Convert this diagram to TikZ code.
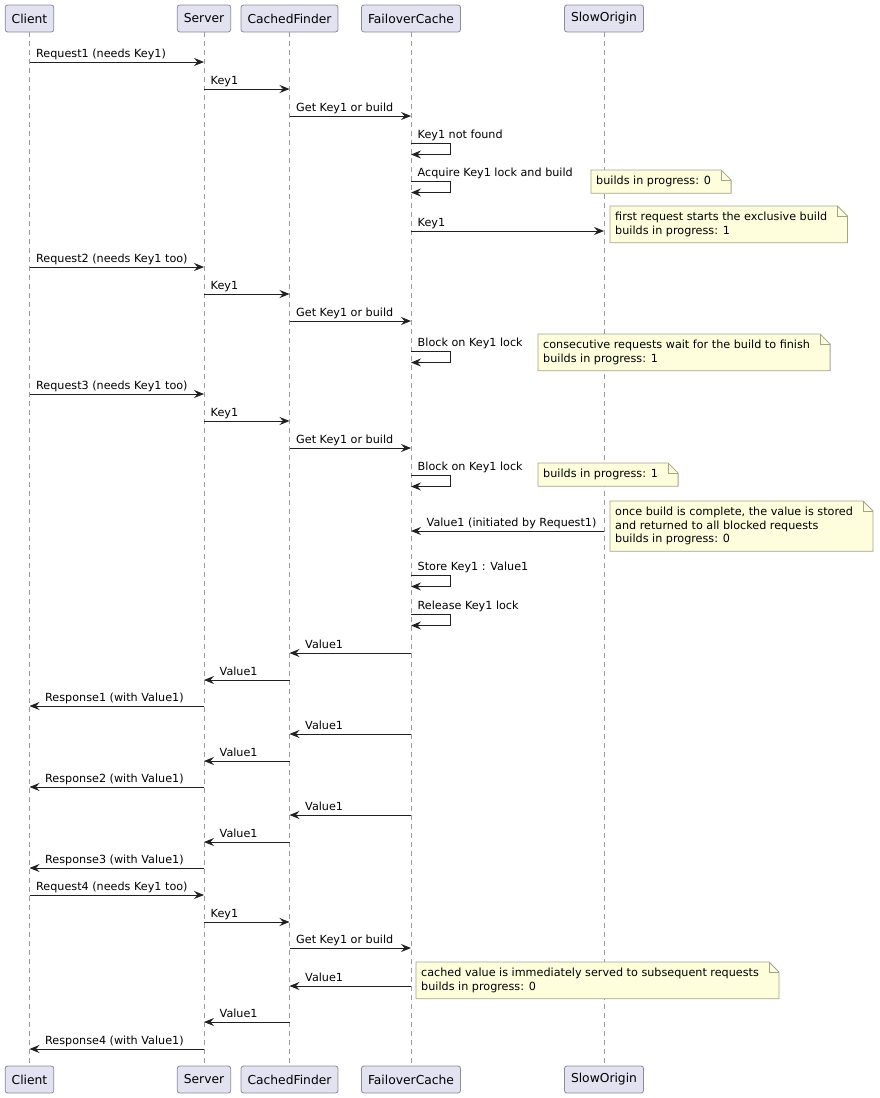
\documentclass[tikz,border=0pt]{standalone}
\usepackage{fontspec}
\setmainfont{DejaVu Sans}
\usetikzlibrary{arrows.meta,calc,backgrounds}
\definecolor{partfill}{HTML}{E2E2F0}
\definecolor{partline}{HTML}{8A8A9A}
\definecolor{lifeline}{HTML}{9A9A9A}
\definecolor{notefill}{HTML}{FEFEDD}
\definecolor{noteline}{HTML}{A3A38A}
\definecolor{msgline}{HTML}{202020}

\begin{document}
\begin{tikzpicture}[x=1pt,y=-1pt,
    part/.style={draw=partline,fill=partfill,rounded corners=2.5pt,line width=0.8pt,
      minimum height=27pt,inner xsep=6.5pt,font=\fontsize{12.3}{14}\selectfont},
    msg/.style={draw=msgline,line width=0.9pt,-{Stealth[length=10pt,width=8pt,inset=3.5pt]}},
    lbl/.style={anchor=base west,inner sep=0pt,font=\fontsize{11.2}{13.5}\selectfont},
    note/.style={anchor=north west,align=left,inner xsep=5pt,inner ysep=6pt,
      font=\fontsize{11.2}{13.5}\selectfont},
    notebox/.style={draw=noteline,fill=notefill,line width=0.8pt},
    life/.style={draw=lifeline,line width=0.8pt,dash pattern=on 4.5pt off 4.5pt}]
    \useasboundingbox (0,0) rectangle (880,1098);
    % participants, top and bottom
    \foreach \p/\x/\t in {client/29.5/Client,server/204/Server,finder/289.5/CachedFinder,
        failover/411/FailoverCache,origin/604/SlowOrigin} {
      \node[part] (\p) at (\x,18.5) {\t};
      \node[part] (\p2) at (\x,1079.5) {\t};
    }
    \begin{scope}[on background layer]
      \foreach \p in {client,server,finder,failover,origin}
        \draw[life] (\p.south) -- (\p2.north);
    \end{scope}
    % calls
    \foreach \a/\b/\y/\t in {client/server/62/Request1 (needs Key1),
        server/finder/89/Key1, finder/failover/116/Get Key1 or build,
        failover/origin/231/Key1,
        client/server/267/Request2 (needs Key1 too),
        server/finder/294/Key1, finder/failover/321/Get Key1 or build,
        client/server/394/Request3 (needs Key1 too),
        server/finder/421/Key1, finder/failover/448/Get Key1 or build,
        client/server/895/Request4 (needs Key1 too),
        server/finder/922/Key1, finder/failover/948/Get Key1 or build} {
      \draw[msg] (\a |- 0,\y) -- (\b |- 0,\y);
      \node[lbl,xshift=6.5pt,yshift=5pt] at (\a |- 0,\y) {\t};
    }
    % replies
    \foreach \a/\b/\y/\t in {origin/failover/531/Value1 (initiated by Request1),
        failover/finder/653/Value1, finder/server/680/Value1,
        server/client/706/Response1 (with Value1),
        failover/finder/734/Value1, finder/server/761/Value1,
        server/client/787/Response2 (with Value1),
        failover/finder/815/Value1, finder/server/842/Value1,
        server/client/868/Response3 (with Value1),
        failover/finder/986/Value1, finder/server/1022/Value1,
        server/client/1049/Response4 (with Value1)} {
      \draw[msg] (\a |- 0,\y) -- (\b |- 0,\y);
      \node[lbl,xshift=15.5pt,yshift=5pt] at (\b |- 0,\y) {\t};
    }
    % self calls on FailoverCache
    \foreach \y/\t in {143/Key1 not found,181/Acquire Key1 lock and build,
        351/Block on Key1 lock,475/Block on Key1 lock,
        575/Store Key1 : Value1,614/Release Key1 lock} {
      \draw[msg] (failover |- 0,\y) -- ++(39,0) -- ++(0,11.5) -- ++(-39,0);
      \node[lbl,xshift=6.5pt,yshift=5pt] at (failover |- 0,\y) {\t};
    }
    % notes
    \node[note] (noteA) at (591,170) {builds in progress: 0};
    \node[note] (noteB) at (610,206) {first request starts the exclusive build\\builds in progress: 1};
    \node[note] (noteC) at (538,334) {consecutive requests wait for the build to finish\\builds in progress: 1};
    \node[note] (noteD) at (538,463) {builds in progress: 1};
    \node[note] (noteE) at (610,501) {once build is complete, the value is stored\\and returned to all blocked requests\\builds in progress: 0};
    \node[note] (noteF) at (416,962) {cached value is immediately served to subsequent requests\\builds in progress: 0};
    \begin{scope}[on background layer]
      \foreach \n in {noteA,noteB,noteC,noteD,noteE,noteF} {
        \draw[notebox] (\n.north west) -- ($(\n.north east)+(5,0)$)
          -- ($(\n.north east)+(15,10)$) -- ($(\n.south east)+(15,0)$)
          -- (\n.south west) -- cycle;
        \draw[draw=noteline,line width=0.8pt] ($(\n.north east)+(5,0)$)
          -- ($(\n.north east)+(5,10)$) -- ($(\n.north east)+(15,10)$);
      }
    \end{scope}
\end{tikzpicture}
\end{document}
